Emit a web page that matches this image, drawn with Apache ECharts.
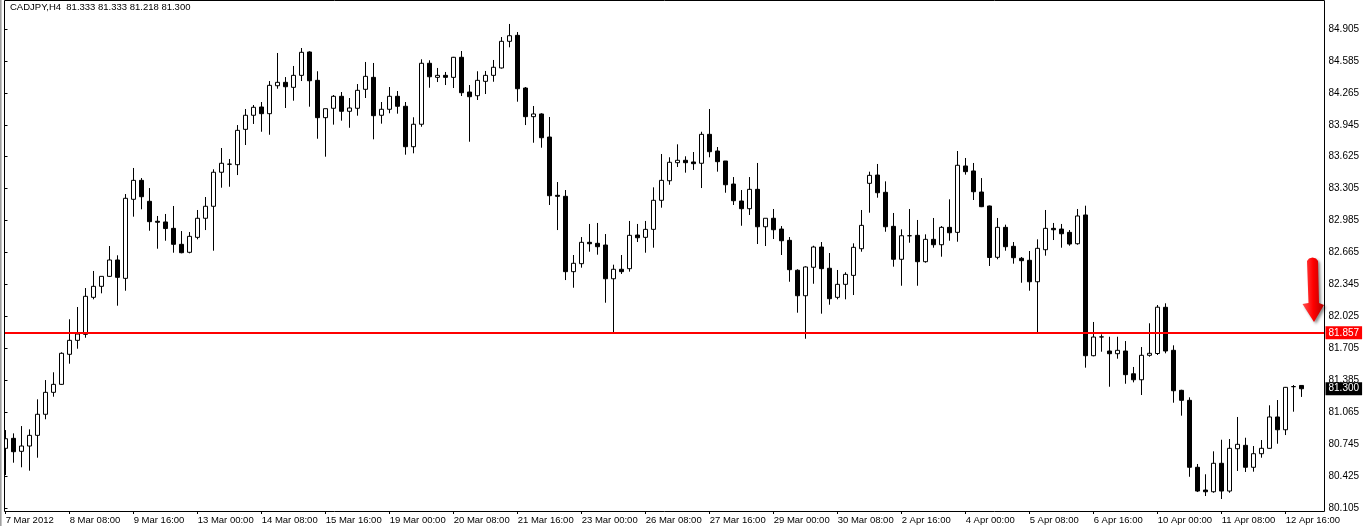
<!DOCTYPE html>
<html><head><meta charset="utf-8">
<script src="https://cdn.jsdelivr.net/npm/echarts@6.0.0/dist/echarts.min.js"></script>
<style>html,body{margin:0;padding:0;background:#fff;}#c{width:1365px;height:526px;}</style>
</head><body><div id="c"></div>
<script>
const symbol = 'CADJPY';
const timeframe = 'H4';
const days = ['2012-03-07','2012-03-08','2012-03-09','2012-03-12','2012-03-13','2012-03-14','2012-03-15','2012-03-16',
  '2012-03-19','2012-03-20','2012-03-21','2012-03-22','2012-03-23','2012-03-26','2012-03-27','2012-03-28','2012-03-29',
  '2012-03-30','2012-04-02','2012-04-03','2012-04-04','2012-04-05','2012-04-06','2012-04-09','2012-04-10','2012-04-11',
  '2012-04-12','2012-04-13'];
const hours = ['00:00','04:00','08:00','12:00','16:00','20:00'];

const opens = [80.703,80.803,80.673,80.726,80.833,81.044,81.264,81.344,81.645,81.785,
81.845,82.216,82.326,82.426,82.590,82.406,83.198,83.388,83.178,82.978,
82.971,82.907,82.747,82.667,82.817,83.008,83.128,83.469,83.549,83.545,
83.899,84.040,84.123,84.056,84.336,84.370,84.320,84.440,84.674,84.390,
84.016,84.110,84.230,84.080,84.110,84.300,84.420,84.040,84.100,84.230,
84.130,83.725,83.950,84.561,84.420,84.440,84.420,84.621,84.273,84.236,
84.380,84.440,84.514,84.781,84.841,84.313,84.026,84.053,83.822,83.238,
83.228,82.473,82.553,82.767,82.757,82.740,82.402,82.497,82.503,82.840,
82.817,82.897,83.188,83.384,83.565,83.589,83.572,83.559,83.849,83.682,
83.582,83.351,83.181,83.104,83.298,82.923,83.008,82.900,82.787,82.487,
82.232,82.517,82.720,82.507,82.216,82.346,82.436,82.703,83.358,83.441,
83.268,82.927,82.597,82.833,82.837,82.573,82.797,82.743,82.917,82.867,
83.532,83.482,83.271,83.131,82.617,82.917,82.727,82.607,82.587,82.372,
82.693,82.907,82.900,82.867,82.753,83.041,81.631,81.818,81.678,81.651,
81.678,81.450,81.390,81.635,81.653,82.116,81.685,81.284,81.184,80.513,
80.285,80.268,80.553,80.275,80.699,80.733,80.513,80.649,80.703,81.017,
80.889,81.320,81.333];

const highs = [80.886,80.853,80.926,80.893,81.194,81.387,81.465,81.665,81.996,82.119,
82.309,82.480,82.426,82.730,82.637,83.251,83.512,83.411,83.311,83.031,
83.051,83.131,82.880,82.870,83.091,83.221,83.499,83.712,83.602,83.942,
84.103,84.143,84.173,84.383,84.664,84.423,84.534,84.714,84.681,84.481,
84.106,84.243,84.273,84.213,84.353,84.574,84.564,84.173,84.323,84.283,
84.173,84.020,84.601,84.591,84.514,84.474,84.625,84.684,84.343,84.481,
84.484,84.594,84.824,84.955,84.874,84.323,84.133,84.060,84.023,83.371,
83.291,82.640,82.820,82.951,82.961,82.850,82.543,82.640,82.981,82.951,
82.981,83.318,83.652,83.619,83.749,83.629,83.672,83.875,84.103,83.722,
83.582,83.421,83.291,83.421,83.562,83.008,83.101,82.930,82.820,82.497,
82.527,82.733,82.770,82.660,82.490,82.467,82.757,83.091,83.475,83.552,
83.378,83.061,82.897,83.101,82.991,82.847,83.011,82.930,83.198,83.682,
83.612,83.562,83.411,83.135,83.011,82.944,82.770,82.620,82.680,82.797,
83.091,82.961,82.951,82.890,83.101,83.134,81.969,81.845,81.821,81.821,
81.778,81.518,81.718,81.956,82.139,82.156,81.735,81.290,81.214,80.546,
80.443,80.673,80.789,80.796,81.017,80.809,80.726,80.786,81.134,81.187,
81.318,81.337,81.333];

const lows = [80.435,80.559,80.513,80.479,80.609,80.994,81.220,81.340,81.551,81.701,
81.811,82.196,82.256,82.420,82.132,82.282,83.024,83.098,82.883,82.703,
82.783,82.663,82.657,82.657,82.797,82.890,82.683,83.314,83.324,83.441,
83.742,83.953,83.875,83.845,84.306,84.113,84.186,84.383,84.126,83.805,
83.625,83.946,83.986,83.915,84.036,84.213,83.799,83.956,84.060,84.056,
83.645,83.659,83.925,84.316,84.373,84.343,84.313,84.233,83.775,84.193,
84.253,84.376,84.508,84.721,84.176,83.942,83.765,83.715,83.141,82.890,
82.389,82.312,82.513,82.673,82.643,82.162,81.850,82.450,82.473,82.770,
82.663,82.713,83.114,83.344,83.522,83.465,83.492,83.311,83.619,83.475,
83.264,83.141,82.933,83.041,82.750,82.730,82.800,82.640,82.372,82.062,
81.801,82.352,82.052,82.142,82.196,82.196,82.239,82.673,83.064,83.214,
82.873,82.523,82.332,82.763,82.332,82.563,82.713,82.623,82.783,82.773,
83.445,83.191,83.120,82.530,82.597,82.683,82.553,82.362,82.282,81.855,
82.633,82.790,82.713,82.733,82.743,81.511,81.625,81.671,81.320,81.601,
81.350,81.364,81.237,81.621,81.638,81.655,81.160,81.030,80.418,80.265,
80.225,80.258,80.195,80.258,80.476,80.466,80.469,80.609,80.700,80.749,
80.836,81.070,81.218];

const closes = [80.799,80.669,80.726,80.833,81.044,81.264,81.344,81.655,81.785,81.848,
82.226,82.326,82.426,82.590,82.416,83.208,83.388,83.224,82.974,82.968,
82.905,82.747,82.663,82.827,83.008,83.128,83.469,83.559,83.551,83.889,
84.040,84.120,84.056,84.340,84.370,84.326,84.440,84.671,84.386,84.016,
84.106,84.230,84.080,84.113,84.290,84.430,84.036,84.100,84.230,84.130,
83.725,83.950,84.561,84.426,84.440,84.420,84.621,84.266,84.226,84.390,
84.440,84.521,84.781,84.837,84.306,84.026,84.053,83.815,83.234,83.228,
82.473,82.557,82.767,82.753,82.723,82.402,82.497,82.473,82.837,82.813,
82.897,83.188,83.388,83.569,83.589,83.565,83.555,83.849,83.675,83.575,
83.344,83.184,83.104,83.298,82.923,83.008,82.893,82.783,82.493,82.232,
82.520,82.720,82.503,82.202,82.346,82.446,82.717,82.937,83.438,83.264,
82.923,82.597,82.833,82.833,82.573,82.797,82.743,82.917,82.863,83.539,
83.475,83.274,83.124,82.615,82.917,82.723,82.613,82.583,82.372,82.707,
82.907,82.893,82.853,82.750,83.031,81.631,81.818,81.820,81.651,81.685,
81.441,81.390,81.635,81.655,82.117,81.678,81.280,81.184,80.513,80.275,
80.268,80.553,80.275,80.703,80.743,80.513,80.649,80.703,81.017,80.889,
81.314,81.322,81.300];

const yTicks = [80.105,80.425,80.745,81.065,81.385,81.705,82.025,82.345,82.665,82.985,83.305,83.625,83.945,84.265,84.585,84.905];
const supportLevel = 81.857;
const yMin = 80.075, yMax = 85.195;
const slotCount = 165;
const MON = ['Jan','Feb','Mar','Apr','May','Jun','Jul','Aug','Sep','Oct','Nov','Dec'];

const categories = [];
days.forEach(d => hours.forEach(h => categories.push(d + ' ' + h)));
const cats = categories.slice(0, slotCount);
const candles = opens.map((o, i) => [o, closes[i], lows[i], highs[i]]);
const last = opens.length - 1;
const FONT = '"Liberation Sans", Arial, sans-serif';

function fmtCat(v, idx) {
  const [d, t] = v.split(' ');
  const [y, m, dd] = d.split('-');
  const head = parseInt(dd, 10) + ' ' + MON[parseInt(m, 10) - 1];
  return idx === 0 ? head + ' ' + y : head + ' ' + t;
}

const chart = echarts.init(document.getElementById('c'), null, {renderer: 'canvas'});
chart.setOption({
  animation: false,
  backgroundColor: '#ffffff',
  grid: [
    {left: 1.7, top: 0, width: 1320, height: 511, outerBoundsMode: 'none', containLabel: false},
    {left: 4.5, top: 0, width: 1320, height: 511, outerBoundsMode: 'none', containLabel: false}
  ],
  xAxis: [
    {type: 'category', gridIndex: 0, data: cats, boundaryGap: true,
     axisLine: {show: false},
     axisTick: {show: true, interval: 7, alignWithLabel: true, length: 3, lineStyle: {color: '#000', width: 1}},
     axisLabel: {show: true, interval: 7, align: 'left', margin: 4, color: '#000', fontSize: 9.5, fontFamily: FONT,
       hideOverlap: false, formatter: fmtCat},
     splitLine: {show: false}},
    {type: 'value', gridIndex: 1, min: 0, max: 1, show: false}
  ],
  yAxis: [
    {type: 'value', gridIndex: 0, min: yMin, max: yMax, show: false, splitLine: {show: false}},
    {type: 'value', gridIndex: 1, min: yMin, max: yMax, position: 'right',
     axisLine: {show: false}, splitLine: {show: false},
     axisTick: {show: true, length: 3, customValues: yTicks, lineStyle: {color: '#000', width: 1}},
     axisLabel: {show: true, customValues: yTicks, margin: 4, color: '#000', fontSize: 10, fontFamily: FONT,
       formatter: v => Number(v).toFixed(3)}}
  ],
  series: [
    {type: 'candlestick', xAxisIndex: 0, yAxisIndex: 0, data: candles, barWidth: 4, z: 2,
     itemStyle: {color: '#ffffff', color0: '#000000', borderColor: '#000000', borderColor0: '#000000', borderWidth: 1}},
    {type: 'line', xAxisIndex: 1, yAxisIndex: 1, data: [], z: 5, silent: true,
     markLine: {silent: true, symbol: ['none', 'none'], animation: false,
       data: [
         {yAxis: supportLevel, lineStyle: {color: '#ff0000', width: 2, type: 'solid'},
          label: {show: true, position: 'end', distance: 1, formatter: supportLevel.toFixed(3),
            backgroundColor: '#ff0000', color: '#ffffff', padding: [2, 3, 1, 3], fontSize: 10, fontFamily: FONT}},
         {yAxis: closes[last], lineStyle: {color: 'rgba(0,0,0,0)', width: 1, type: 'solid'},
          label: {show: true, position: 'end', distance: 1, formatter: closes[last].toFixed(3),
            backgroundColor: '#000000', color: '#ffffff', padding: [2, 3, 1, 3], fontSize: 10, fontFamily: FONT}}
       ]}}
  ],
  graphic: [
    {type: 'rect', z: 100, shape: {x: 0, y: 0, width: 4, height: 511}, style: {fill: '#ffffff'}},
    {type: 'rect', z: 101, shape: {x: 0, y: 0, width: 1.6, height: 526}, style: {fill: '#a0a0a0'}},
    {type: 'rect', z: 101, shape: {x: 4.5, y: 0.5, width: 1320, height: 511}, style: {fill: 'none', stroke: '#000000', lineWidth: 1}},
    {type: 'text', z: 102, x: 10, y: 7, style: {
      text: symbol + ',' + timeframe + '  ' + [opens[last], highs[last], lows[last], closes[last]].map(v => v.toFixed(3)).join(' '),
      fill: '#000', fontSize: 9.5, fontFamily: FONT, verticalAlign: 'middle'}},
    {type: 'polygon', z: 102, shape: {points: [[1307,261],[1309,258.5],[1312.5,257.5],[1316,258.5],[1318,261],[1319,303],[1324,305],[1314,322],[1302.5,304],[1308.5,303]]},
     style: {fill: new echarts.graphic.LinearGradient(0, 0, 1, 0, [{offset: 0, color: '#ff5050'}, {offset: 0.5, color: '#ff0000'}, {offset: 1, color: '#b00000'}]),
       shadowBlur: 3, shadowOffsetX: 2, shadowOffsetY: 2, shadowColor: 'rgba(0,0,0,0.45)'}}
  ]
});
</script></body></html>
